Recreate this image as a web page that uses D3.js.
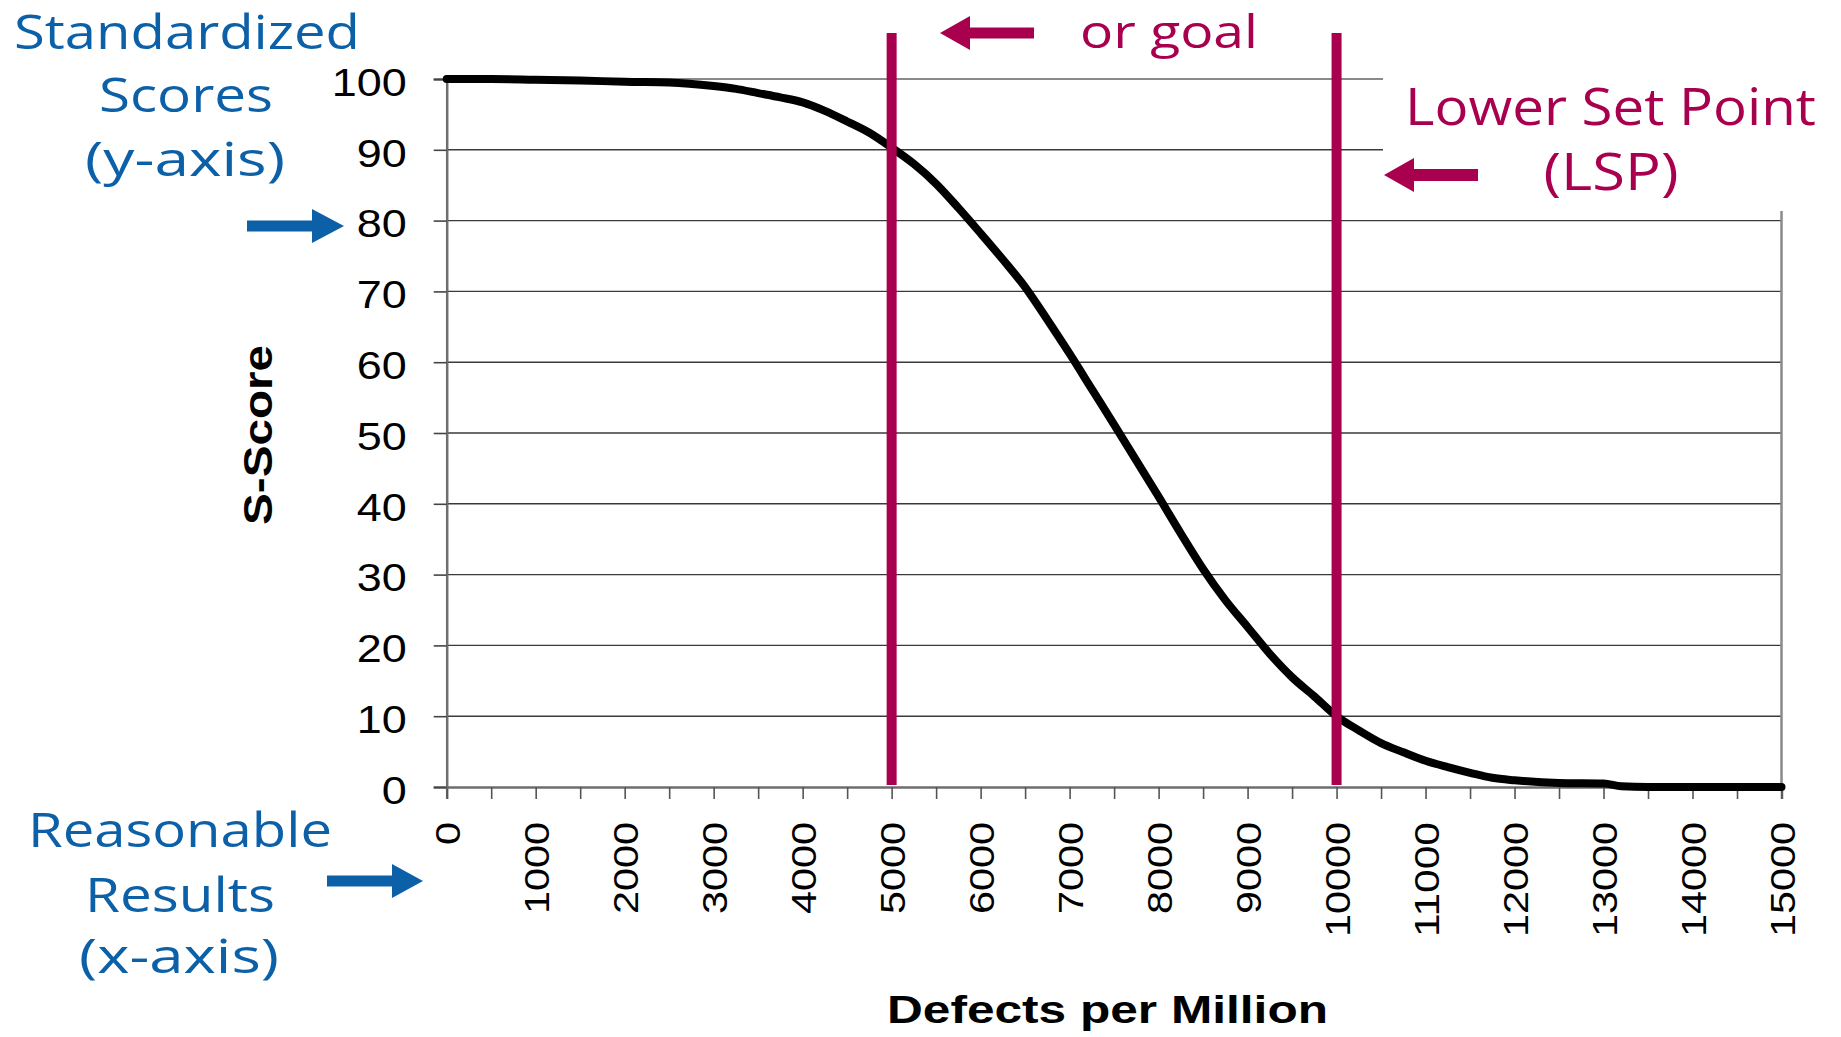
<!DOCTYPE html>
<html><head><meta charset="utf-8">
<script src="https://cdn.jsdelivr.net/npm/d3@7"></script>
<style>html,body{margin:0;padding:0;background:#fff;} svg{display:block;}</style>
</head><body>
<svg id="chart" width="1841" height="1037"></svg>
<script>
// ---- data ----
const dpm = [0,500,1000,1500,2000,2500,3000,3250,3500,3750,4000,4250,4500,4750,
  5000,5250,5500,5750,6000,6250,6500,6750,7000,7250,7500,7750,8000,8250,8500,8750,
  9000,9250,9500,9750,10000,10250,10500,10750,11000,11250,11500,11750,12000,
  12500,13000,13200,13500,14000,15000];
const sScore = [100,100,99.9,99.8,99.6,99.5,99.0,98.6,98.0,97.4,96.7,95.5,94.0,92.4,
  90.3,88.0,85.2,81.8,78.2,74.5,70.6,66.0,61.2,56.2,51.2,46.1,41.0,35.8,30.8,26.4,
  22.6,18.8,15.5,12.8,10.0,8.0,6.2,4.9,3.7,2.8,2.0,1.3,0.95,
  0.57,0.5,0.1,0,0,0];
const xTickLabels = [0,1000,2000,3000,4000,5000,6000,7000,8000,9000,10000,11000,12000,13000,14000,15000];
const yTickLabels = [0,10,20,30,40,50,60,70,80,90,100];
const markerLines = [5000, 10000];   // goal and Lower Set Point
const blueLabelsY = ["Standardized","Scores","(y-axis)"];
const blueLabelsX = ["Reasonable","Results","(x-axis)"];

// ---- layout ----
const svg = d3.select("#chart");
const X0 = 446.7, X1 = 1781.5, Y0 = 787, Y1 = 79;
const x = d3.scaleLinear().domain([0,15000]).range([X0,X1]);
const y = d3.scaleLinear().domain([0,100]).range([Y0,Y1]);
const MAG = "#A8004E", BLUE = "#0C60A8";

// gridlines
svg.append("g").selectAll("line").data(yTickLabels.filter(d=>d>0)).join("line")
  .attr("x1",X0).attr("x2",X1).attr("y1",d=>y(d)).attr("y2",d=>y(d))
  .attr("stroke", d=> d===100 ? "#8a8a8a" : "#3a3a3a").attr("stroke-width", d=> d===100?2:1.4);

// right border
svg.append("line").attr("x1",X1).attr("x2",X1).attr("y1",Y1).attr("y2",Y0)
  .attr("stroke","#8a8a8a").attr("stroke-width",2.5);

// x axis
const xAxis = d3.axisBottom(x).tickValues(d3.range(0,15001,500)).tickSize(12)
  .tickFormat(d => xTickLabels.includes(d) ? String(d) : "");
const gx = svg.append("g").attr("transform",`translate(0,${Y0})`).call(xAxis);
gx.select(".domain").attr("stroke","#6e6e6e").attr("stroke-width",2.5);
gx.selectAll(".tick line").attr("stroke","#555").attr("stroke-width",1.6);
gx.selectAll(".tick text")
  .attr("transform","rotate(-90)").attr("x",-35).attr("y",1).attr("dy","0.35em")
  .attr("text-anchor","end").attr("font-family","'Liberation Sans', Arial, sans-serif")
  .attr("font-size",35).attr("fill","#000")
  .each(function(){ const t=this.textContent; if(t) d3.select(this).attr("textLength",t.length*23).attr("lengthAdjust","spacingAndGlyphs"); });

// y axis
const yAxis = d3.axisLeft(y).tickValues(yTickLabels).tickSize(13).tickFormat(d=>String(d));
const gy = svg.append("g").attr("transform",`translate(${X0},0)`).call(yAxis);
gy.select(".domain").attr("stroke","#6e6e6e").attr("stroke-width",2.5);
gy.selectAll(".tick line").attr("stroke","#444").attr("stroke-width",1.6);
gy.selectAll(".tick text")
  .attr("x",-40).attr("dy","0.42em")
  .attr("font-family","'Liberation Sans', Arial, sans-serif").attr("font-size",39).attr("fill","#000")
  .each(function(){ const t=this.textContent; d3.select(this).attr("textLength",t.length*25).attr("lengthAdjust","spacingAndGlyphs"); });

// curve
const pts = dpm.map((d,i)=>[d,sScore[i]]);
svg.append("path").datum(pts)
  .attr("d", d3.line().x(d=>x(d[0])).y(d=>y(d[1])).curve(d3.curveMonotoneX))
  .attr("fill","none").attr("stroke","#000").attr("stroke-width",8)
  .attr("stroke-linejoin","round").attr("stroke-linecap","round");

// marker lines (goal, LSP)
svg.append("g").selectAll("line").data(markerLines).join("line")
  .attr("x1",d=>x(d)).attr("x2",d=>x(d)).attr("y1",y(106.5)).attr("y2",Y0-2)
  .attr("stroke",MAG).attr("stroke-width",10);

// white text box covering top-right of plot
svg.append("rect").attr("x",1383).attr("y",0).attr("width",1841-1383).attr("height",211).attr("fill","#fff");

// arrows
function arrow(tipX, tipY, tailX, headLen, headHalf, shaftHalf, color){
  const dir = Math.sign(tailX - tipX), hx = tipX + dir*headLen;
  const p = [[tipX,tipY],[hx,tipY-headHalf],[hx,tipY-shaftHalf],[tailX,tipY-shaftHalf],
             [tailX,tipY+shaftHalf],[hx,tipY+shaftHalf],[hx,tipY+headHalf]];
  svg.append("polygon").attr("points",p.map(q=>q.join(",")).join(" ")).attr("fill",color);
}
arrow(940, 33, 1034, 30, 17, 5.5, MAG);
arrow(1384, 175, 1478, 30, 17, 6, MAG);
arrow(344, 226, 247, 32, 17, 5.5, BLUE);
arrow(423, 881, 327, 31, 17, 5.5, BLUE);

// annotation text
function label(txt, xx, yy, anchor, size, len, color, family, weight){
  return svg.append("text").attr("x",xx).attr("y",yy).attr("text-anchor",anchor)
    .attr("font-family",family||"'Open Sans', sans-serif").attr("font-size",size)
    .attr("font-weight",weight||"normal")
    .attr("fill",color).attr("textLength",len).attr("lengthAdjust","spacingAndGlyphs").text(txt);
}
const blueY = [[187,49,346],[186,112,174],[185,176,200]];
blueLabelsY.forEach((t,i)=>label(t, blueY[i][0], blueY[i][1], "middle", 47, blueY[i][2], BLUE));
const blueX = [[180,847,304],[180,912,190],[179,973,200]];
blueLabelsX.forEach((t,i)=>label(t, blueX[i][0], blueX[i][1], "middle", 48, blueX[i][2], BLUE));

label("or goal", 1080, 48, "start", 46, 178, MAG);
label("Lower Set Point", 1405, 125, "start", 52, 411, MAG);
label("(LSP)", 1611, 190, "middle", 52, 135, MAG);

// axis titles
label("Defects per Million", 887, 1023, "start", 38.7, 441, "#000", "'Liberation Sans', Arial, sans-serif", "bold");
svg.append("text").attr("transform","translate(257.5,435) rotate(-90)")
  .attr("text-anchor","middle").attr("dy","0.35em")
  .attr("font-family","'Liberation Sans', Arial, sans-serif").attr("font-weight","bold").attr("font-size",40)
  .attr("textLength",180).attr("lengthAdjust","spacingAndGlyphs").text("S-Score");
</script>
</body></html>
